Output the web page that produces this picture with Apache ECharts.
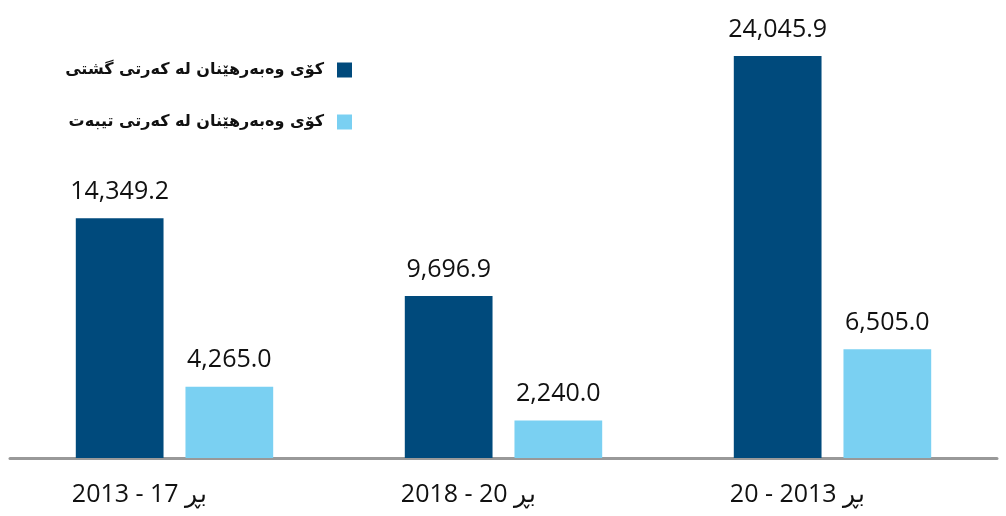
<!DOCTYPE html>
<html>
<head>
<meta charset="utf-8">
<script src="https://cdn.jsdelivr.net/npm/echarts@6/dist/echarts.min.js"></script>
<style>
  html, body { margin: 0; padding: 0; background: #fff; }
  #chart-container { width: 1006px; height: 516px; }
</style>
</head>
<body>
<div id="chart-container"></div>
<script>
// data
var categories = ['2013 - 17 بڕ', '2018 - 20 بڕ', '20 - 2013 بڕ'];
var seriesNames = ['کۆی وەبەرهێنان لە کەرتی گشتی', 'کۆی وەبەرهێنان لە کەرتی تیبەت'];
var publicValues = [14349.2, 9696.9, 24045.9];
var privateValues = [4265.0, 2240.0, 6505.0];

var dom = document.getElementById('chart-container');
var myChart = echarts.init(dom, null, { renderer: 'canvas' });

function fmt(p) {
  return p.value.toLocaleString('en-US', { minimumFractionDigits: 1, maximumFractionDigits: 1 });
}

var labelOption = {
  show: true,
  position: 'top',
  distance: 14,
  color: '#111',
  fontSize: 25,
  fontFamily: 'Open Sans',
  formatter: fmt
};

var option = {
  animation: false,
  legend: {
    orient: 'vertical',
    right: 649,
    top: 57,
    align: 'right',
    itemWidth: 15,
    itemHeight: 15,
    itemGap: 36,
    icon: 'rect',
    textStyle: {
      color: '#111',
      fontSize: 16,
      fontWeight: 'bold',
      fontFamily: 'DejaVu Sans',
      padding: [0, 8, 0, 0]
    },
    data: seriesNames
  },
  grid: { left: 10, right: 9, top: 10, bottom: 58 },
  xAxis: {
    type: 'category',
    data: categories,
    axisTick: { show: false },
    axisLine: { lineStyle: { color: '#999', width: 3 } },
    axisLabel: {
      color: '#111',
      fontSize: 25,
      fontFamily: 'Open Sans',
      margin: 24,
      padding: [0, 70, 0, 0]
    }
  },
  yAxis: {
    type: 'value',
    show: false,
    min: 0,
    max: 26800
  },
  series: [
    {
      name: seriesNames[0],
      type: 'bar',
      barGap: '25%',
      barCategoryGap: '40%',
      itemStyle: { color: '#004a7c' },
      label: labelOption,
      data: publicValues
    },
    {
      name: seriesNames[1],
      type: 'bar',
      itemStyle: { color: '#7ad0f2' },
      label: labelOption,
      data: privateValues
    }
  ]
};

myChart.setOption(option);
</script>
</body>
</html>
